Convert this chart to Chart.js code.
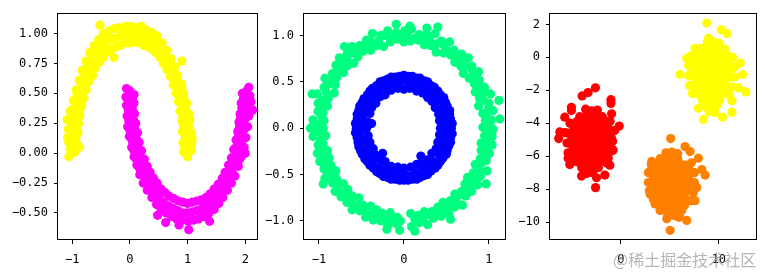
<!DOCTYPE html>
<html>
<head>
<meta charset="utf-8">
<script src="https://cdn.jsdelivr.net/npm/chart.js@4.4.1/dist/chart.umd.min.js"></script>
<style>
  html, body { margin: 0; padding: 0; background: #fff; }
  #wrap { position: relative; width: 765px; height: 273px; overflow: hidden; }
  canvas { position: absolute; top: 0; }
  #mark { position: absolute; left: 613px; top: 247px; font: 16px "Noto Sans CJK SC", sans-serif;
          color: rgba(150,150,150,0.7); white-space: nowrap; }
</style>
</head>
<body>
<div id="wrap">
  <canvas id="c1" width="262" height="273" style="left:0px;width:262px;height:273px"></canvas>
  <canvas id="c2" width="248" height="273" style="left:262px;width:248px;height:273px"></canvas>
  <canvas id="c3" width="255" height="273" style="left:510px;width:255px;height:273px"></canvas>
  <div id="mark">@稀土掘金技术社区</div>
</div>
<script>
// ---- panel 1 : moons ----
const moonTop = [
  [0.93,0.01],[1.0,-0.03],[1.06,0.02],[0.95,0.06],[1.03,0.05],
  [0.92,0.09],[1.0,0.11],[1.07,0.08],[0.96,0.14],[1.04,0.15],
  [0.91,0.18],[0.99,0.2],[1.06,0.17],[0.93,0.23],[1.02,0.22],
  [0.9,0.27],[0.97,0.25],[1.04,0.28],[0.92,0.31],[1.0,0.32],
  [0.87,0.35],[0.95,0.36],[1.02,0.33],[0.9,0.4],[0.97,0.39],
  [0.84,0.43],[0.91,0.45],[0.98,0.42],[0.86,0.48],[0.93,0.47],
  [0.8,0.5],[0.87,0.52],[0.93,0.5],[0.75,0.57],[0.82,0.6],[0.89,0.58],
  [0.7,0.64],[0.77,0.67],[0.83,0.65],[0.9,0.77],
  [0.64,0.7],[0.71,0.74],[0.78,0.72],[0.58,0.75],[0.65,0.8],[0.71,0.79],
  [0.52,0.8],[0.58,0.85],[0.64,0.86],[0.45,0.84],[0.5,0.9],[0.56,0.92],
  [0.38,0.87],[0.43,0.93],[0.47,0.98],[0.31,0.89],[0.34,0.96],[0.38,1.01],
  [0.24,0.9],[0.26,0.97],[0.28,1.03],[0.16,0.92],[0.18,0.99],[0.2,1.06],
  [0.08,0.93],[0.09,1.0],[0.1,1.05],[-0.01,0.92],[0.0,0.99],[0.02,1.06],
  [-0.08,0.93],[-0.09,1.01],[-0.07,1.06],[-0.16,0.9],[-0.17,0.98],[-0.19,1.05],
  [-0.24,0.89],[-0.26,0.96],[-0.28,1.04],[-0.28,0.8],
  [-0.32,0.87],[-0.35,0.95],[-0.37,1.02],[-0.39,0.85],[-0.43,0.92],[-0.46,1.0],
  [-0.46,0.8],[-0.5,0.88],[-0.54,0.95],[-0.52,1.07],
  [-0.53,0.76],[-0.58,0.83],[-0.62,0.9],[-0.6,0.71],[-0.65,0.77],[-0.7,0.84],
  [-0.65,0.65],[-0.71,0.71],[-0.76,0.77],[-0.71,0.6],[-0.77,0.65],[-0.83,0.69],
  [-0.76,0.53],[-0.82,0.58],[-0.88,0.61],
  [-0.8,0.46],[-0.87,0.5],[-0.93,0.53],[-0.84,0.43],[-0.92,0.46],
  [-0.84,0.39],[-0.91,0.42],[-0.98,0.44],[-0.88,0.36],[-0.96,0.38],
  [-0.87,0.32],[-0.94,0.34],[-1.01,0.36],[-0.9,0.29],[-0.98,0.3],
  [-0.89,0.25],[-0.96,0.26],[-1.04,0.27],[-1.09,0.28],[-1.08,0.13],
  [-0.92,0.21],[-1.0,0.22],[-0.9,0.17],[-0.98,0.17],[-1.05,0.18],
  [-0.94,0.13],[-1.02,0.12],[-0.93,0.09],[-1.0,0.08],[-1.06,0.09],
  [-0.97,0.05],[-1.04,0.04],[-0.95,0.01],[-1.02,0.0],[-1.06,-0.03],[-0.88,0.05],
  [-1.0,0.15],[-0.95,0.33],[-0.92,0.5],[-0.86,0.6],[-0.78,0.7],[-1.07,0.2],[-1.04,0.35],
  [0.97,0.1],[0.95,0.3],[0.9,0.55],[1.08,0.12]
];
const moonBottom = [
  [0.07,0.49],[0.0,0.52],[-0.06,0.54],[0.04,0.46],[-0.04,0.45],
  [0.07,0.42],[0.0,0.41],[-0.06,0.4],[0.04,0.37],[-0.03,0.36],
  [0.08,0.33],[0.02,0.32],[-0.05,0.31],[0.06,0.28],[-0.02,0.27],
  [0.1,0.25],[0.03,0.23],[-0.04,0.22],[0.08,0.2],[0.0,0.19],
  [0.13,0.17],[0.06,0.15],[-0.01,0.14],[0.11,0.12],[0.04,0.1],
  [0.16,0.09],[0.09,0.07],[0.03,0.05],[0.15,0.03],[0.07,0.02],
  [0.2,0.02],[0.13,0.0],[0.07,-0.03],[0.19,-0.04],[0.11,-0.05],
  [0.25,-0.05],[0.18,-0.07],[0.12,-0.1],[0.24,-0.11],[0.17,-0.13],
  [0.3,-0.11],[0.23,-0.14],[0.17,-0.18],[0.35,-0.16],[0.29,-0.21],[0.23,-0.25],
  [0.41,-0.21],[0.36,-0.27],[0.3,-0.31],[0.47,-0.25],[0.43,-0.32],[0.38,-0.37],
  [0.54,-0.3],[0.5,-0.37],[0.46,-0.43],
  [0.61,-0.33],[0.58,-0.41],[0.54,-0.47],[0.48,-0.52],
  [0.68,-0.36],[0.66,-0.44],[0.63,-0.5],[0.62,-0.58],
  [0.76,-0.38],[0.74,-0.46],[0.72,-0.53],
  [0.84,-0.4],[0.83,-0.48],[0.81,-0.55],[0.85,-0.6],
  [0.92,-0.41],[0.91,-0.5],[0.9,-0.56],
  [1.0,-0.42],[1.0,-0.5],[1.01,-0.57],[1.02,-0.64],
  [1.08,-0.41],[1.09,-0.49],[1.1,-0.56],[1.16,-0.4],[1.17,-0.48],[1.19,-0.55],
  [1.24,-0.39],[1.26,-0.46],[1.28,-0.53],
  [1.32,-0.37],[1.34,-0.44],[1.37,-0.5],[1.38,-0.57],
  [1.39,-0.34],[1.42,-0.41],[1.46,-0.47],[1.46,-0.3],[1.5,-0.37],[1.54,-0.42],
  [1.53,-0.26],[1.57,-0.32],[1.61,-0.37],[1.6,-0.21],[1.64,-0.27],[1.69,-0.31],
  [1.65,-0.16],[1.71,-0.21],[1.76,-0.25],[1.71,-0.1],[1.77,-0.14],[1.82,-0.19],
  [1.76,-0.04],[1.82,-0.07],[1.88,-0.11],
  [1.8,0.03],[1.87,0.0],[1.93,-0.03],[1.84,0.05],[1.92,0.03],
  [1.84,0.11],[1.91,0.08],[1.98,0.05],[1.88,0.14],[1.96,0.12],
  [1.87,0.18],[1.94,0.16],[2.01,0.13],[1.9,0.22],[1.98,0.2],
  [1.89,0.26],[1.97,0.24],[2.04,0.22],[1.92,0.3],[2.0,0.29],
  [1.91,0.33],[1.99,0.33],[2.06,0.31],[2.13,0.36],[2.1,0.43],
  [1.94,0.38],[2.02,0.37],[1.93,0.42],[2.0,0.41],[2.06,0.43],
  [1.97,0.46],[2.04,0.47],[1.95,0.5],[2.02,0.52],[2.06,0.55],
  [0.01,0.35],[0.04,0.2],[0.1,0.0],[0.2,-0.15],[-0.07,0.47],
  [1.95,0.27],[2.0,0.0],[1.9,-0.05],[2.08,0.48]
];
const moonXTicks = [-1, 0, 1, 2];
const moonYTicks = [-0.5, -0.25, 0, 0.25, 0.5, 0.75, 1.0];

// ---- panel 2 : circles ----
const ringOuter = [
  [0.93,0.01],[1.05,-0.01],[1.0,0.04],[0.96,0.08],[1.03,0.09],[0.97,0.13],
  [0.93,0.16],[1.05,0.19],[1.0,0.22],[0.88,0.24],[1.0,0.27],[0.94,0.3],
  [0.89,0.32],[1.02,0.37],[0.93,0.39],[0.84,0.39],[0.95,0.44],[0.89,0.46],
  [0.83,0.48],[0.89,0.52],[0.83,0.53],[0.77,0.54],[0.88,0.61],[0.81,0.62],
  [0.7,0.59],[0.8,0.67],[0.73,0.67],[0.67,0.67],[0.76,0.76],[0.68,0.74],
  [0.6,0.71],[0.68,0.8],[0.61,0.79],[0.55,0.79],[0.59,0.84],[0.53,0.83],
  [0.47,0.81],[0.54,0.93],[0.47,0.9],[0.38,0.82],[0.44,0.94],[0.38,0.91],
  [0.32,0.89],[0.37,1.02],[0.3,0.96],[0.24,0.9],[0.27,1.01],[0.22,0.98],
  [0.17,0.95],[0.18,1.01],[0.13,0.97],[0.08,0.94],[0.09,1.07],[0.04,1.02],
  [0.0,0.93],[0.01,1.05],[-0.04,1.0],[-0.08,0.96],[-0.09,1.03],[-0.13,0.97],
  [-0.16,0.93],[-0.19,1.05],[-0.22,1.0],[-0.24,0.88],[-0.27,1.0],[-0.3,0.94],
  [-0.32,0.89],[-0.37,1.02],[-0.39,0.93],[-0.39,0.84],[-0.44,0.95],[-0.46,0.89],
  [-0.48,0.83],[-0.52,0.89],[-0.53,0.83],[-0.54,0.77],[-0.61,0.88],[-0.62,0.81],
  [-0.59,0.7],[-0.67,0.8],[-0.67,0.73],[-0.67,0.67],[-0.76,0.76],[-0.74,0.68],
  [-0.71,0.6],[-0.8,0.68],[-0.79,0.61],[-0.79,0.55],[-0.84,0.59],[-0.83,0.53],
  [-0.81,0.47],[-0.93,0.54],[-0.9,0.47],[-0.82,0.38],[-0.94,0.44],[-0.91,0.38],
  [-0.89,0.32],[-1.02,0.37],[-0.96,0.3],[-0.9,0.24],[-1.01,0.27],[-0.98,0.22],
  [-0.95,0.17],[-1.01,0.18],[-0.97,0.13],[-0.94,0.08],[-1.07,0.09],[-1.02,0.04],
  [-0.95,0.0],[-1.04,-0.01],[-1.01,-0.04],[-0.92,-0.08],[-1.07,-0.09],[-0.98,-0.13],
  [-0.95,-0.17],[-1.01,-0.18],[-0.98,-0.22],[-0.9,-0.24],[-1.02,-0.27],[-0.97,-0.31],
  [-0.88,-0.32],[-0.99,-0.36],[-0.91,-0.38],[-0.86,-0.4],[-0.94,-0.44],[-0.9,-0.47],
  [-0.8,-0.46],[-0.93,-0.54],[-0.83,-0.53],[-0.79,-0.55],[-0.84,-0.59],[-0.79,-0.61],
  [-0.71,-0.6],[-0.81,-0.68],[-0.75,-0.69],[-0.66,-0.66],[-0.74,-0.74],[-0.66,-0.72],
  [-0.61,-0.73],[-0.67,-0.8],[-0.62,-0.8],[-0.53,-0.75],[-0.61,-0.88],[-0.53,-0.83],
  [-0.48,-0.83],[-0.52,-0.89],[-0.46,-0.89],[-0.39,-0.84],[-0.45,-0.96],[-0.39,-0.94],
  [-0.32,-0.88],[-0.36,-0.99],[-0.29,-0.93],[-0.25,-0.92],[-0.27,-1.0],[-0.22,-0.99],
  [-0.16,-0.91],[-0.19,-1.05],[-0.13,-0.98],[-0.08,-0.96],[-0.09,-1.03],[-0.04,-1.0],
  [0.08,-0.92],[0.09,-1.06],[0.13,-0.98],[0.17,-0.94],[0.18,-1.02],[0.22,-0.99],
  [0.24,-0.9],[0.28,-1.04],[0.29,-0.93],[0.33,-0.9],[0.35,-0.97],[0.39,-0.94],
  [0.4,-0.85],[0.44,-0.95],[0.46,-0.89],[0.46,-0.8],[0.53,-0.92],[0.53,-0.83],
  [0.55,-0.78],[0.6,-0.85],[0.62,-0.8],[0.6,-0.71],[0.69,-0.83],[0.66,-0.72],
  [0.68,-0.68],[0.73,-0.73],[0.75,-0.69],[0.72,-0.6],[0.8,-0.68],[0.79,-0.61],
  [0.75,-0.53],[0.87,-0.61],[0.83,-0.53],[0.82,-0.48],[0.9,-0.52],[0.9,-0.47],
  [0.84,-0.39],[0.98,-0.46],[0.91,-0.38],[0.9,-0.33],[0.97,-0.35],[0.97,-0.31],
  [0.91,-0.24],[1.01,-0.27],[0.98,-0.22],[0.91,-0.16],[1.04,-0.18],[0.98,-0.13],
  [0.95,-0.08],[1.04,-0.09],[1.01,-0.04],
  [0.97,-0.6],[1.12,0.3],[1.13,0.1],[0.13,-1.11],[-0.05,-1.1],[-0.09,1.12],
  [0.4,1.09],[0.07,1.1],[-1.1,0.0],[-1.08,0.37],[0.27,1.08],[-0.2,-1.09],
  [0.55,-0.98],[-0.7,0.88],[-0.95,-0.6]
];
const ringInner = [
  [0.43,0.0],[0.42,0.08],[0.41,0.15],[0.37,0.22],[0.33,0.29],[0.28,0.33],[0.22,0.38],[0.15,0.4],[0.07,0.43],
  [0.0,0.42],[-0.07,0.43],[-0.15,0.41],[-0.22,0.36],[-0.28,0.34],[-0.33,0.27],[-0.38,0.22],[-0.4,0.16],[-0.43,0.07],
  [-0.44,0.0],[-0.42,-0.08],[-0.4,-0.15],[-0.36,-0.22],[-0.33,-0.29],[-0.28,-0.33],[-0.22,-0.36],[-0.15,-0.41],[-0.07,-0.42],
  [0.0,-0.43],[0.08,-0.42],[0.15,-0.39],[0.22,-0.37],[0.28,-0.34],[0.33,-0.27],[0.38,-0.22],[0.4,-0.15],[0.42,-0.07],
  [-0.25,-0.27],[0.2,-0.3],[-0.38,0.05],
  [0.5,0.04],[0.48,0.13],[0.46,0.21],[0.41,0.29],[0.35,0.36],[0.29,0.41],[0.21,0.46],[0.13,0.48],[0.04,0.51],
  [-0.04,0.5],[-0.13,0.49],[-0.21,0.45],[-0.29,0.42],[-0.35,0.35],[-0.42,0.29],[-0.45,0.2],[-0.49,0.13],[-0.5,0.04],
  [-0.51,-0.04],[-0.48,-0.13],[-0.45,-0.22],[-0.41,-0.29],[-0.36,-0.35],[-0.29,-0.42],[-0.21,-0.45],[-0.13,-0.49],[-0.04,-0.5],
  [0.04,-0.51],[0.13,-0.48],[0.21,-0.46],[0.29,-0.41],[0.35,-0.36],[0.42,-0.29],[0.45,-0.21],[0.49,-0.13],[0.5,-0.04],
  [0.56,0.0],[0.57,0.05],[0.55,0.1],[0.54,0.15],[0.54,0.19],[0.51,0.24],[0.49,0.28],[0.47,0.33],[0.43,0.36],
  [0.4,0.4],[0.36,0.44],[0.32,0.46],[0.28,0.5],[0.24,0.51],[0.19,0.54],[0.15,0.54],[0.1,0.56],[0.05,0.56],
  [0.0,0.57],[-0.05,0.56],[-0.1,0.55],[-0.15,0.55],[-0.19,0.53],[-0.24,0.51],[-0.28,0.5],[-0.32,0.46],[-0.37,0.43],
  [-0.4,0.4],[-0.43,0.36],[-0.47,0.32],[-0.49,0.28],[-0.52,0.24],[-0.53,0.19],[-0.55,0.15],[-0.55,0.1],[-0.57,0.05],
  [-0.56,0.0],[-0.57,-0.05],[-0.55,-0.1],[-0.54,-0.15],[-0.53,-0.2],[-0.51,-0.24],[-0.49,-0.28],[-0.46,-0.33],[-0.43,-0.36],
  [-0.4,-0.4],[-0.36,-0.43],[-0.32,-0.47],[-0.28,-0.49],[-0.24,-0.52],[-0.19,-0.53],[-0.15,-0.55],[-0.1,-0.55],[-0.05,-0.56],
  [0.0,-0.56],[0.05,-0.56],[0.1,-0.55],[0.15,-0.55],[0.19,-0.53],[0.24,-0.51],[0.28,-0.5],[0.32,-0.46],[0.37,-0.43],
  [0.4,-0.4],[0.43,-0.36],[0.46,-0.32],[0.5,-0.28],[0.51,-0.24],[0.53,-0.19],[0.55,-0.15],[0.55,-0.1],[0.57,-0.06]
];
const ringXTicks = [-1, 0, 1];
const ringYTicks = [-1.0, -0.5, 0.0, 0.5, 1.0];

// ---- panel 3 : blobs ----
const blobRed = [
  [-3.6,-3.15],[-3.0,-3.25],[-2.4,-3.2],
  [-4.2,-3.6],[-3.5,-3.5],[-3.0,-3.6],[-2.4,-3.5],[-1.9,-3.6],
  [-4.5,-3.9],[-3.9,-3.95],[-3.3,-3.85],[-2.7,-3.9],[-2.1,-3.95],[-1.6,-3.85],
  [-4.8,-4.25],[-4.2,-4.2],[-3.6,-4.3],[-3.0,-4.2],[-2.4,-4.3],[-1.8,-4.2],[-1.3,-4.3],
  [-4.9,-4.6],[-4.3,-4.65],[-3.7,-4.55],[-3.1,-4.6],[-2.5,-4.65],[-1.9,-4.55],[-1.4,-4.6],
  [-5.0,-4.95],[-4.4,-4.9],[-3.8,-5.0],[-3.2,-4.95],[-2.6,-4.9],[-2.0,-5.0],[-1.4,-4.95],
  [-5.0,-5.3],[-4.4,-5.35],[-3.8,-5.25],[-3.2,-5.3],[-2.6,-5.35],[-2.0,-5.25],[-1.4,-5.3],
  [-4.9,-5.65],[-4.3,-5.6],[-3.7,-5.7],[-3.1,-5.65],[-2.5,-5.6],[-1.9,-5.7],[-1.4,-5.65],
  [-4.7,-6.0],[-4.1,-6.05],[-3.5,-5.95],[-2.9,-6.0],[-2.3,-6.05],[-1.7,-5.95],
  [-4.4,-6.35],[-3.8,-6.3],[-3.2,-6.4],[-2.6,-6.35],[-2.0,-6.3],
  [-4.0,-6.7],[-3.4,-6.75],[-2.8,-6.65],[-2.3,-6.7],[-3.5,-7.05],[-2.9,-7.0],
  [-5.5,-4.6],[-5.5,-5.2],[-5.4,-5.8],[-0.9,-4.5],[-0.85,-5.1],[-1.0,-5.7],
  [-5.2,-4.0],[-1.1,-3.9],[-4.8,-6.3],[-1.5,-6.4],
  [-2.6,-1.85],[-3.35,-2.14],[-3.96,-2.34],[-1.02,-2.57],[-1.02,-2.8],[-5.05,-3.03],
  [-5.05,-3.23],[-0.95,-3.43],[-5.73,-3.63],[-0.17,-4.17],[-0.61,-4.43],[-6.24,-4.53],
  [-5.73,-4.57],[-6.35,-4.93],[-0.95,-4.93],[-0.79,-5.62],[-1.3,-6.12],[-5.22,-6.51],
  [-1.13,-6.55],[-1.64,-7.15],[-2.49,-7.31],[-2.59,-7.91],[-4.02,-7.21],[-5.39,-6.12]
];
const blobOrange = [
  [4.6,-5.8],[5.2,-5.75],[5.8,-5.85],
  [4.0,-6.15],[4.6,-6.2],[5.2,-6.1],[5.8,-6.15],
  [3.6,-6.5],[4.2,-6.45],[4.8,-6.55],[5.4,-6.5],[6.0,-6.45],[6.6,-6.55],
  [3.4,-6.85],[4.0,-6.9],[4.6,-6.8],[5.2,-6.85],[5.8,-6.9],[6.4,-6.8],[7.0,-6.85],
  [3.3,-7.2],[3.9,-7.15],[4.5,-7.25],[5.1,-7.2],[5.7,-7.15],[6.3,-7.25],[6.9,-7.2],
  [3.3,-7.55],[3.9,-7.6],[4.5,-7.5],[5.1,-7.55],[5.7,-7.6],[6.3,-7.5],[6.9,-7.55],
  [3.4,-7.9],[4.0,-7.85],[4.6,-7.95],[5.2,-7.9],[5.8,-7.85],[6.4,-7.95],[7.0,-7.9],
  [3.6,-8.25],[4.2,-8.3],[4.8,-8.2],[5.4,-8.25],[6.0,-8.3],[6.6,-8.2],
  [3.8,-8.6],[4.4,-8.55],[5.0,-8.65],[5.6,-8.6],[6.2,-8.55],[6.7,-8.65],
  [4.2,-8.95],[4.8,-9.0],[5.4,-8.9],[6.0,-8.95],[6.5,-9.0],
  [4.5,-9.3],[5.1,-9.35],[5.7,-9.25],[6.2,-9.3],[4.8,-9.65],[5.4,-9.6],[6.0,-9.7],
  [2.8,-7.0],[2.8,-7.6],[2.9,-8.1],[7.5,-7.0],[7.5,-7.6],[7.4,-8.2],
  [3.1,-6.5],[7.2,-8.7],[3.3,-8.6],[7.2,-6.4],
  [5.08,-4.93],[6.55,-5.42],[7.06,-5.72],[7.91,-6.12],[3.14,-6.32],[8.26,-6.81],
  [8.6,-7.15],[2.97,-6.91],[3.14,-7.81],[2.97,-8.3],[3.48,-8.9],[3.99,-9.3],
  [4.68,-9.8],[6.72,-9.9],[5.87,-9.7],[5.02,-10.5],[7.57,-8.7],[7.75,-7.9]
];
const blobYellow = [
  [8.8,0.9],[9.4,0.95],[10.0,0.85],
  [8.2,0.55],[8.8,0.5],[9.4,0.6],[10.0,0.55],[10.6,0.5],
  [7.8,0.2],[8.4,0.25],[9.0,0.15],[9.6,0.2],[10.2,0.25],[10.8,0.15],
  [7.5,-0.15],[8.1,-0.1],[8.7,-0.2],[9.3,-0.15],[9.9,-0.1],[10.5,-0.2],[11.1,-0.15],
  [7.4,-0.5],[8.0,-0.55],[8.6,-0.45],[9.2,-0.5],[9.8,-0.55],[10.4,-0.45],[11.0,-0.5],
  [7.4,-0.85],[8.0,-0.8],[8.6,-0.9],[9.2,-0.85],[9.8,-0.8],[10.4,-0.9],[11.0,-0.85],
  [7.5,-1.2],[8.1,-1.25],[8.7,-1.15],[9.3,-1.2],[9.9,-1.25],[10.5,-1.15],[11.1,-1.2],
  [7.6,-1.55],[8.2,-1.5],[8.8,-1.6],[9.4,-1.55],[10.0,-1.5],[10.6,-1.6],
  [7.8,-1.9],[8.4,-1.95],[9.0,-1.85],[9.6,-1.9],[10.2,-1.95],[10.8,-1.85],
  [8.0,-2.25],[8.6,-2.2],[9.2,-2.3],[9.8,-2.25],[10.4,-2.2],
  [8.3,-2.6],[8.9,-2.65],[9.5,-2.55],[10.1,-2.6],[8.6,-2.95],[9.2,-3.0],[9.8,-2.9],
  [9.0,-3.3],[9.6,-3.35],
  [6.9,-0.5],[6.9,-1.1],[7.0,-1.7],[11.6,-0.6],[11.6,-1.2],[11.4,-1.8],
  [7.2,0.1],[11.4,0.0],[7.3,-2.2],[11.1,-2.3],
  [8.77,2.08],[10.24,1.68],[10.82,1.44],[8.94,1.15],[7.57,0.55],[6.72,-0.05],
  [6.04,-1.04],[12.18,-0.35],[12.42,-1.04],[12.76,-2.1],[12.0,-1.84],[7.91,-3.09],
  [8.43,-3.77],[11.33,-3.33],[10.37,-3.63],[11.33,-2.63]
];
const blobXTicks = [0, 10];
const blobYTicks = [-10, -8, -6, -4, -2, 0, 2];

const tickFont = { family: 'DejaVu Sans Mono', size: 12 };

function fmt(v, dec) {
  let s = Math.abs(v).toFixed(dec);
  return (v < 0 ? '\u2212' : '') + s;
}

// black frame round the plot area (all four spines)
const framePlugin = {
  id: 'frame',
  afterDatasetsDraw(chart) {
    const a = chart.chartArea;
    const ctx = chart.ctx;
    ctx.save();
    ctx.strokeStyle = '#000';
    ctx.lineWidth = 1;
    ctx.strokeRect(Math.round(a.left) - 0.5, Math.round(a.top) + 0.5,
                   Math.round(a.right - a.left) + 1, Math.round(a.bottom - a.top) - 1);
    ctx.restore();
  }
};

function axis(min, max, ticks, dec, isX, size) {
  return {
    type: 'linear',
    min: min,
    max: max,
    afterBuildTicks: s => { s.ticks = ticks.map(v => ({ value: v })); },
    afterFit: s => { if (isX) s.height = size; else s.width = size; },
    ticks: {
      font: tickFont, color: '#000', padding: isX ? 9 : 6,
      maxRotation: 0, autoSkip: false,
      callback: v => fmt(v, dec)
    },
    grid: { drawOnChartArea: false, drawTicks: true, tickLength: 4, tickColor: '#000', tickWidth: 1 },
    border: { display: false }
  };
}

function pts(arr) {
  return arr.map(p => ({ x: p[0], y: p[1] }));
}

function ds(arr, color) {
  return {
    data: pts(arr),
    pointBackgroundColor: color,
    pointBorderColor: color,
    pointBorderWidth: 0,
    pointRadius: 4.6,
    pointHoverRadius: 4.6,
    showLine: false
  };
}

function makePanel(id, datasets, xs, ys, padRight) {
  new Chart(document.getElementById(id), {
    type: 'scatter',
    data: { datasets: datasets },
    options: {
      responsive: false,
      animation: false,
      layout: { padding: { left: 0, right: padRight, top: 9, bottom: 0 } },
      plugins: { legend: { display: false }, tooltip: { enabled: false } },
      scales: { x: xs, y: ys }
    },
    plugins: [framePlugin]
  });
}

makePanel('c1',
  [ds(moonTop, '#ffff00'), ds(moonBottom, '#ff00ff')],
  axis(-1.248, 2.21, moonXTicks, 0, true, 33),
  axis(-0.726, 1.17, moonYTicks, 2, false, 58), 3);

makePanel('c2',
  [ds(ringOuter, '#00ff80'), ds(ringInner, '#0000ff')],
  axis(-1.176, 1.196, ringXTicks, 0, true, 33),
  axis(-1.205, 1.24, ringYTicks, 1, false, 42), 3);

makePanel('c3',
  [ds(blobRed, '#ff0000'), ds(blobOrange, '#ff8000'), ds(blobYellow, '#ffff00')],
  axis(-7.24, 13.79, blobXTicks, 0, true, 33),
  axis(-11.09, 2.68, blobYTicks, 0, false, 40), 9);
</script>
</body>
</html>
